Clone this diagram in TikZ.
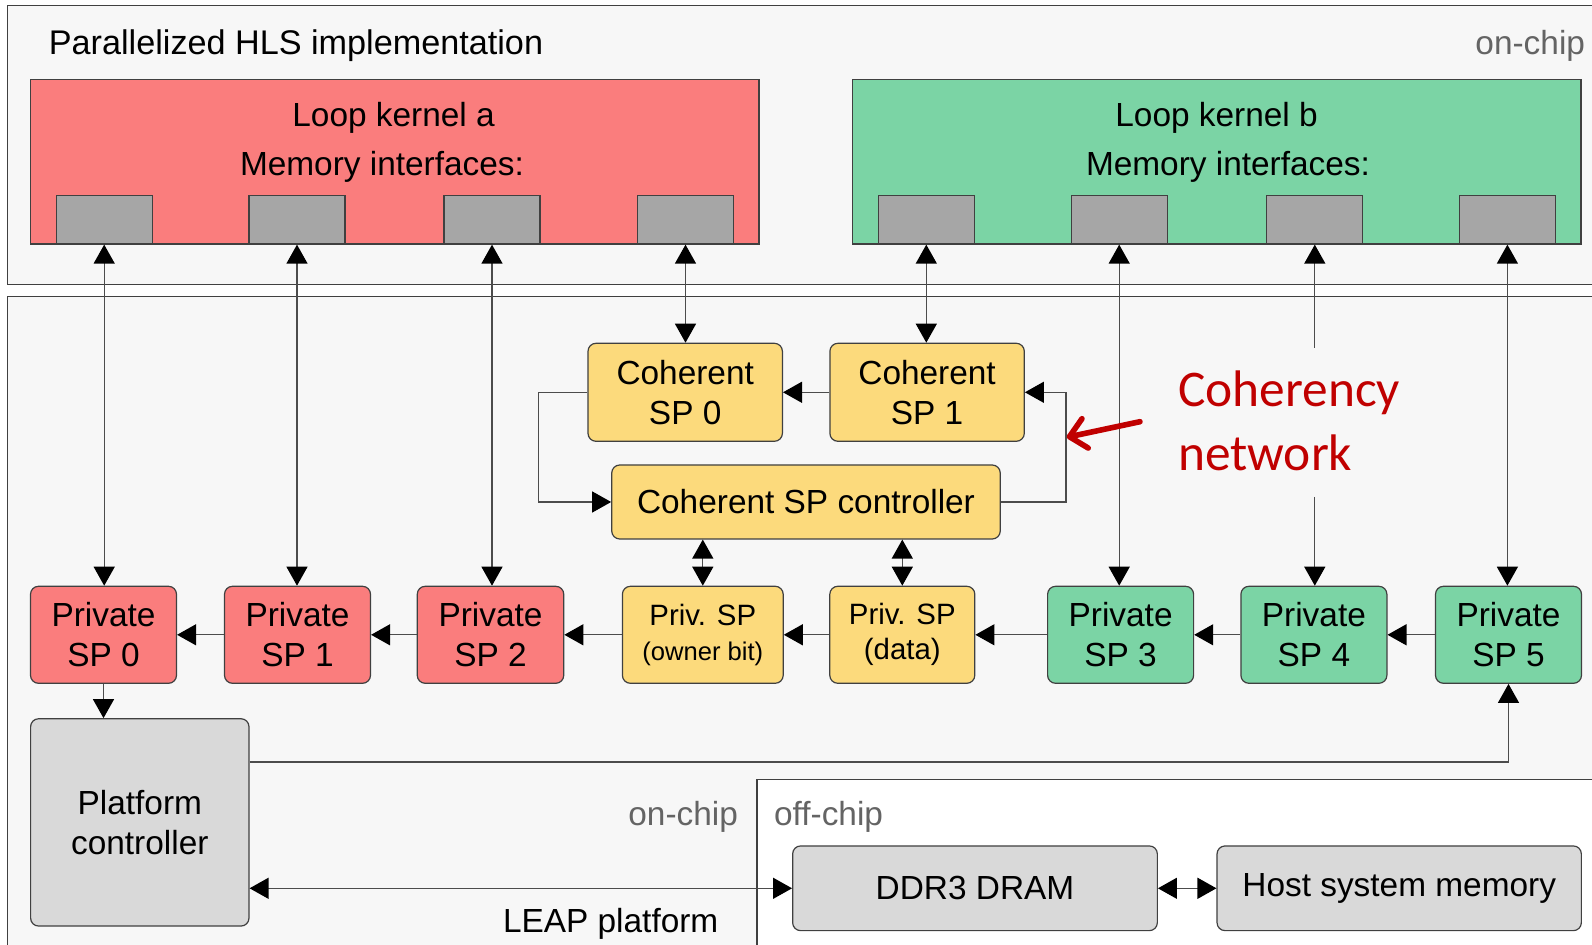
\documentclass[tikz,border=0pt]{standalone}
\usepackage{fontspec}
\setmainfont{Liberation Sans}
\newfontfamily\notefont{Carlito}
\usetikzlibrary{arrows.meta,calc}

\definecolor{kernelA}{RGB}{250,125,125}
\definecolor{kernelB}{RGB}{123,212,165}
\definecolor{cohFill}{RGB}{252,218,124}
\definecolor{platFill}{RGB}{217,217,217}
\definecolor{portFill}{RGB}{166,166,166}
\definecolor{panelFill}{RGB}{247,247,247}
\definecolor{frameCol}{RGB}{64,64,64}
\definecolor{noteRed}{RGB}{192,0,0}
\definecolor{labelGray}{RGB}{100,100,100}

\begin{document}
\begin{tikzpicture}[x=0.5pt,y=-0.5pt,
  font=\fontsize{16.7}{20}\selectfont,
  box/.style={draw=frameCol,line width=0.6pt,rounded corners=4pt,align=center,inner sep=0pt},
  privA/.style={box,fill=kernelA,minimum width=73pt,minimum height=48.5pt},
  privB/.style={box,fill=kernelB,minimum width=73pt,minimum height=48.5pt},
  cohbox/.style={box,fill=cohFill,minimum height=48.5pt},
  platbox/.style={box,fill=platFill},
  kernel/.style={draw=frameCol,line width=0.6pt,minimum width=364.2pt,minimum height=82.35pt,inner sep=0pt},
  port/.style={draw=frameCol,line width=0.6pt,fill=portFill,minimum width=48pt,minimum height=24.35pt,inner sep=0pt},
  panel/.style={draw=frameCol,line width=0.75pt},
  graylbl/.style={text=labelGray,inner sep=0pt},
  link/.style={draw=black!70,line width=0.65pt},
  tip/.tip={Triangle[length=9.5pt,width=10.5pt,black]},
  arr/.style={link,-tip},
  dbl/.style={link,tip-tip},
]
\useasboundingbox (0,0) rectangle (1592,945);
\fill[white] (0,0) rectangle (1592,945);

% panels
\fill[panelFill] (7.7,5.7) rectangle (1592,284.3);
\draw[panel] (1592,5.7) -- (7.7,5.7) -- (7.7,284.3) -- (1592,284.3);
\fill[panelFill] (7.7,296.7) rectangle (1592,945);
\draw[panel] (7.7,945) -- (7.7,296.7) -- (1592,296.7);
\fill[white] (757,779.3) rectangle (1592,945);
\draw[panel] (757,945) -- (757,779.3) -- (1592,779.3);

\node[anchor=base west,inner sep=0pt,font=\fontsize{17.1}{20.5}\selectfont] (hlstitle) at (48.5,54.3) {Parallelized HLS implementation};
\node[graylbl,anchor=base east] (onchiptop) at (1585.4,54.3) {on-chip};
\node[graylbl,anchor=base east] (onchip) at (738.3,826) {on-chip};
\node[graylbl,anchor=base west] (offchip) at (773.7,826) {off-chip};
\node[anchor=base west,inner sep=0pt] (leap) at (502.6,933) {LEAP platform};

% loop kernels
\node[kernel,fill=kernelA] (ka) at (394.8,161.7) {};
\node[anchor=base] (kaname) at (393.6,126.7) {Loop kernel a};
\node[anchor=base] (kamem) at (382,176) {Memory interfaces:};
\node[kernel,fill=kernelB] (kb) at (1216.7,161.7) {};
\node[anchor=base] (kbname) at (1216.6,126.7) {Loop kernel b};
\node[anchor=base] (kbmem) at (1228,176) {Memory interfaces:};
\foreach \n/\x in {1/104.2,2/297,3/492,4/685.5}
  \node[port] (pa\n) at (\x,219.7) {};
\foreach \n/\x in {1/926.3,2/1119.2,3/1314.8,4/1507.4}
  \node[port] (pb\n) at (\x,219.7) {};

% coherency network
\node[cohbox,minimum width=97.2pt,minimum height=49pt] (csp0) at (685.2,392.3) {Coherent\\SP 0};
\node[cohbox,minimum width=97.2pt,minimum height=49pt] (csp1) at (927.1,392.3) {Coherent\\SP 1};
\node[cohbox,minimum width=194.25pt,minimum height=37pt] (cctrl) at (806,502) {Coherent SP controller};

% private scratchpads
\node[privA] (psp0) at (103.5,634.8) {Private\\SP 0};
\node[privA] (psp1) at (297.5,634.8) {Private\\SP 1};
\node[privA,minimum width=73.25pt] (psp2) at (490.5,634.8) {Private\\SP 2};
\node[cohbox,minimum width=80.4pt,font=\fontsize{14.7}{17.5}\selectfont] (powner) at (702.8,634.8) {Priv. SP\\{\fontsize{12.8}{15}\selectfont(owner bit)}};
\node[cohbox,minimum width=72.5pt,font=\fontsize{14.7}{17.5}\selectfont] (pdata) at (902.3,634.8) {Priv. SP\\(data)};
\node[privB] (psp3) at (1120.6,634.8) {Private\\SP 3};
\node[privB] (psp4) at (1313.9,634.8) {Private\\SP 4};
\node[privB] (psp5) at (1508.5,634.8) {Private\\SP 5};

% platform
\node[platbox,minimum width=109.2pt,minimum height=103.65pt] (pc) at (139.8,822.4) {Platform\\controller};
\node[platbox,minimum width=182.35pt,minimum height=42.35pt] (ddr) at (975,888.3) {DDR3 DRAM};
\node[platbox,minimum width=182.15pt,minimum height=42.35pt] (host) at (1399.2,888.3) {Host system memory};

\node[anchor=west,inner sep=0pt,align=left,text=noteRed,font=\notefont\fontsize{25.7}{32}\selectfont] (cohlbl) at (1177.7,421) {Coherency\\network};

% connections
\foreach \p/\q in {pa1/psp0,pa2/psp1,pa3/psp2,pa4/csp0,pb1/csp1,pb2/psp3,pb4/psp5}
  \draw[dbl] (\p.south) -- (\p.south |- \q.north);
\coordinate (gapTop) at (pb3.south |- 0,348);
\coordinate (gapBot) at (pb3.south |- 0,497);
\draw[link,tip-] (pb3.south) -- (gapTop);
\draw[arr] (gapBot) -- (gapBot |- psp4.north);
\foreach \a/\b in {psp5/psp4,psp4/psp3,psp3/pdata,pdata/powner,powner/psp2,psp2/psp1,psp1/psp0}
  \draw[arr] (\a.west) -- (\b.east);
\draw[arr] (csp1.west) -- (csp0.east);
\draw[arr] (csp0.west) -- ++(-48.6,0) |- (cctrl.west);
\draw[arr] (cctrl.east) -| ($(csp1.east)+(41,0)$) -- (csp1.east);
\draw[dbl] (cctrl.south -| powner.north) -- (powner.north);
\draw[dbl] (cctrl.south -| pdata.north) -- (pdata.north);
\draw[arr] (psp0.south) -- (psp0.south |- pc.north);
\draw[arr] (pc.east |- 0,762) -| (psp5.south);
\draw[dbl] (pc.east |- ddr.west) -- (ddr.west);
\draw[dbl] (ddr.east) -- (host.west);

\coordinate (cohtail) at (1140,421.7);
\coordinate (cohtip) at (1066.7,437.3);
\draw[noteRed,line width=2.8pt,line cap=round,-{Straight Barb[length=8pt,width=15pt,round,line width=2.8pt]}] (cohtail) -- (cohtip);
\end{tikzpicture}
\end{document}
